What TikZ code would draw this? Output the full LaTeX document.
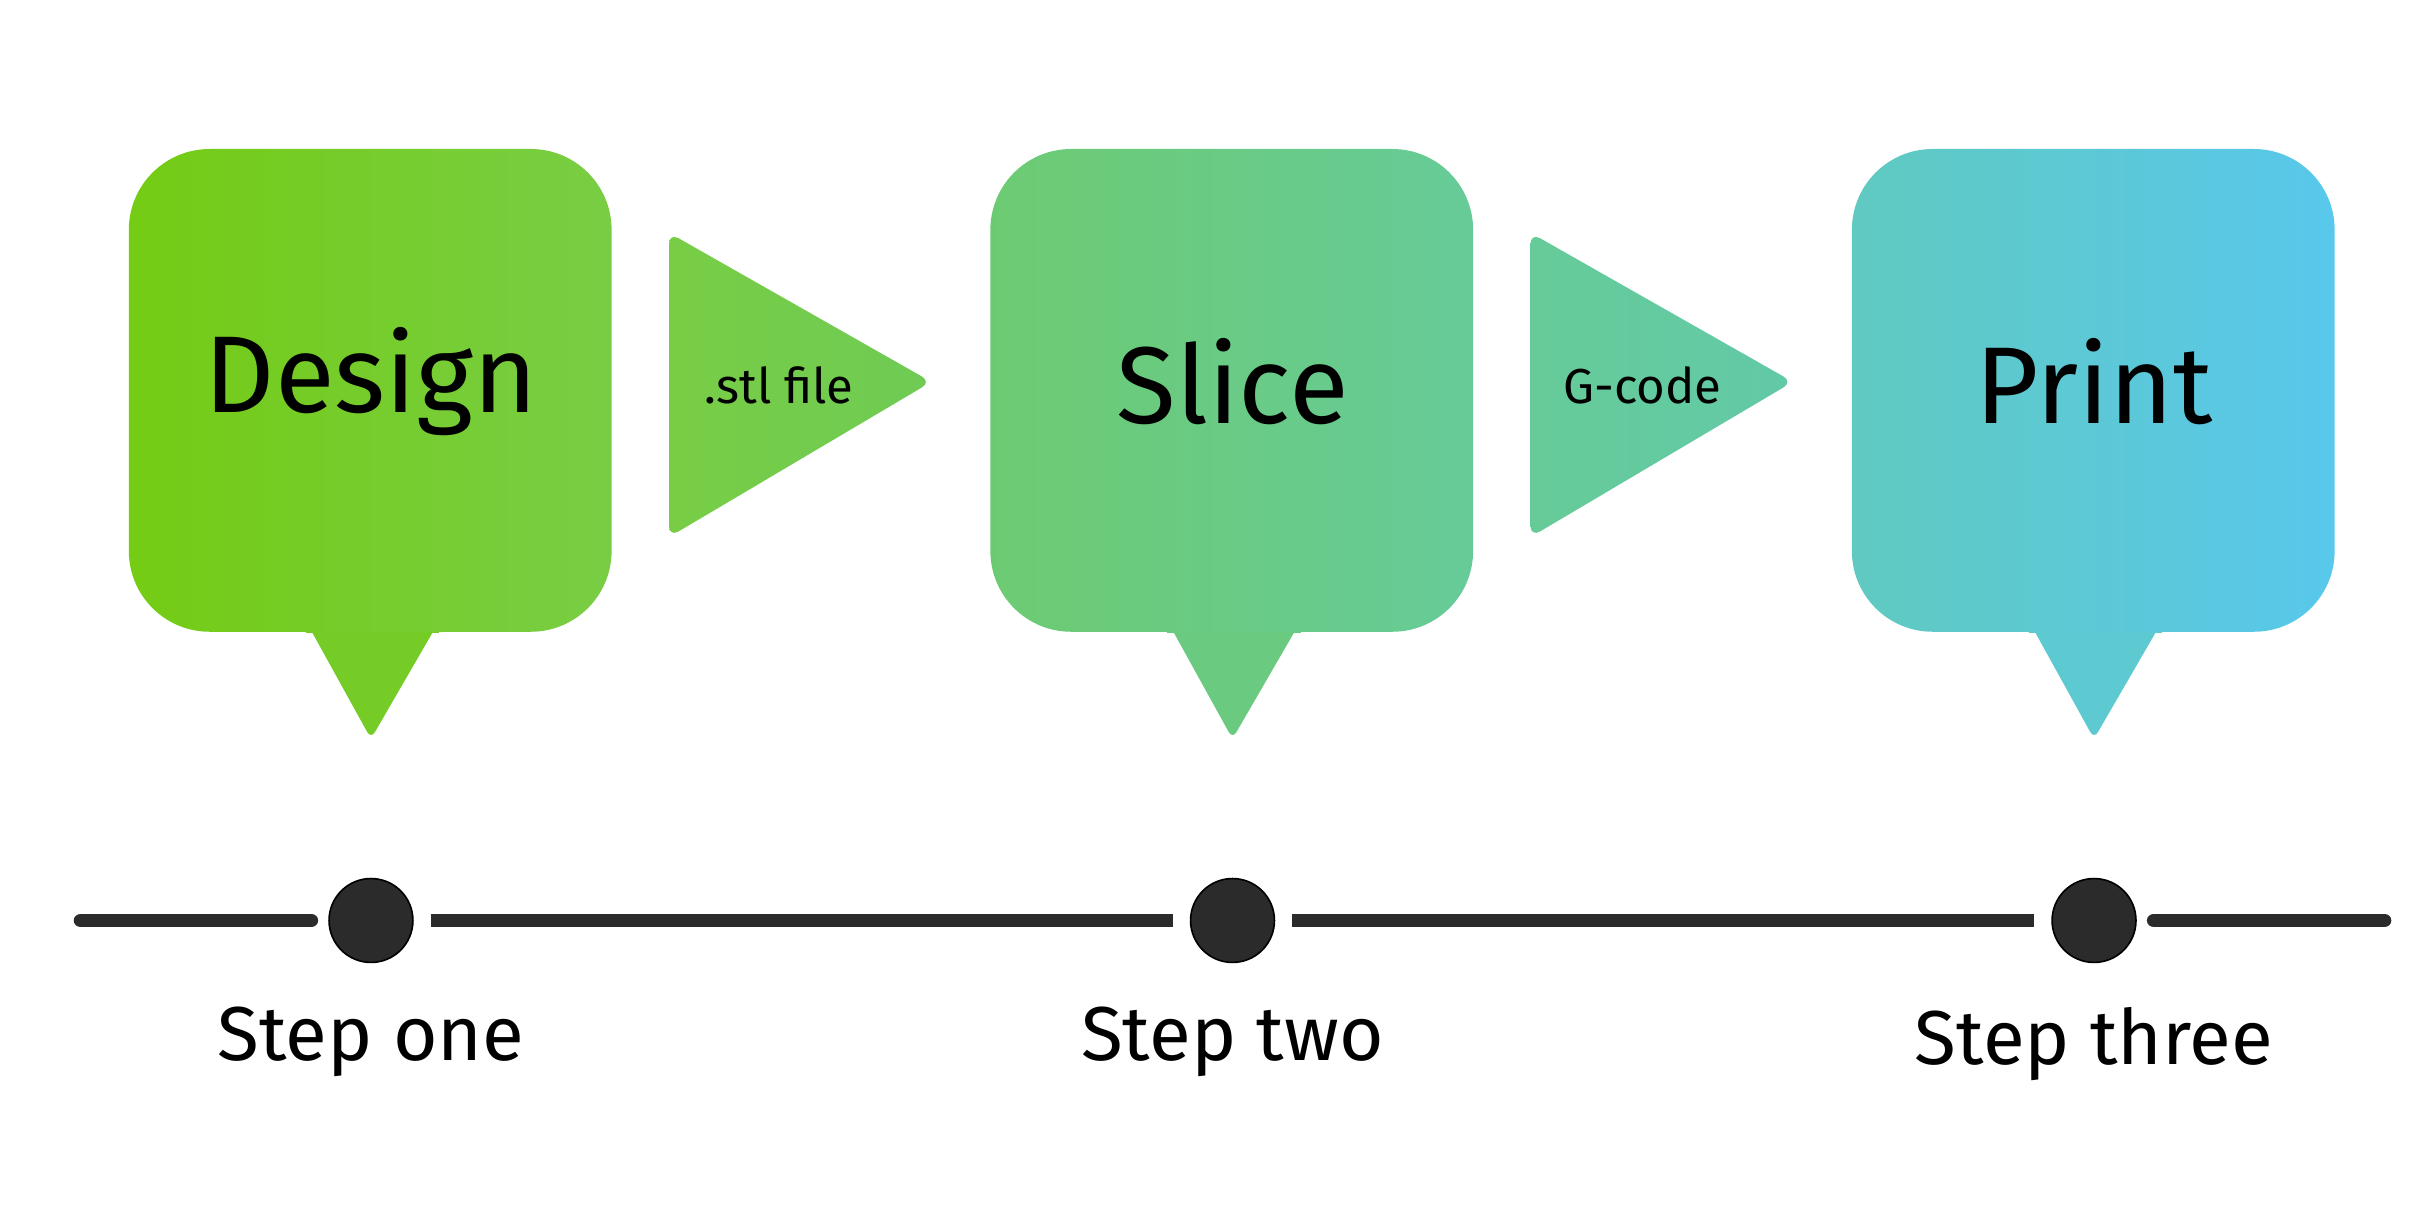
\documentclass[tikz,border=0pt]{standalone}
\usepackage{fontspec}
\setmainfont{Fira Sans}
\usetikzlibrary{positioning}
\definecolor{cA}{HTML}{74CC14}
\definecolor{cB}{HTML}{78CD44}
\definecolor{cC}{HTML}{6FCB55}
\definecolor{cD}{HTML}{6CCB72}
\definecolor{cE}{HTML}{66CB98}
\definecolor{cF}{HTML}{62C9A8}
\definecolor{cG}{HTML}{60C9C0}
\definecolor{cH}{HTML}{58C8EC}
\definecolor{trackgray}{HTML}{2B2B2B}
\tikzset{
  track/.style={line width=0.09cm, draw=trackgray, line cap=round},
  dot/.style={circle, fill=trackgray, draw=black, line width=0.3pt, minimum size=0.54cm, inner sep=0pt},
  steplabel/.style={font=\fontsize{14}{16}\selectfont, text=black},
  title/.style={font=\fontsize{20}{24}\selectfont, text=black},
  tag/.style={font=\fontsize{9}{11}\selectfont, text=black}
}
% bubble: centre x, left colour, right colour
\newcommand{\bubble}[3]{
  \fill[#2!63!#3, rounded corners=0.05cm] (#1-42,400) -- (#1+44,400) -- (#1,476) -- cycle;
  \fill[#2!63!#3] (#1-42,400) rectangle (#1+44,408);
  \shade[left color=#2, right color=#3, rounded corners=0.52cm] (#1-156,96) rectangle (#1+155,407);
}
% arrow: left x, left colour, right colour
\newcommand{\pointer}[3]{
  \shade[left color=#2, right color=#3, rounded corners=0.07cm] (#1,150) -- (#1+169,246) -- (#1,346) -- cycle;
}

\begin{document}
\begin{tikzpicture}[x=0.01cm, y=-0.01cm]
  \useasboundingbox (0,0) rectangle (1568,792);

  % Bubbles and arrows
  \bubble{239}{cA}{cB}
  \pointer{431}{cB}{cC}
  \bubble{794}{cD}{cE}
  \pointer{986}{cE}{cF}
  \bubble{1349}{cG}{cH}

  % Titles
  \node[title] (design) at (239,246) {Design};
  \node[title] (slice) at (794,246) {Slice};
  \node[title] (print) at (1349,246) {Print};
  \node[tag] (stl) at (502,248) {.stl file};
  \node[tag] (gcode) at (1058,248) {G-code};

  % Timeline
  \coordinate (start) at (52,593);
  \coordinate (end) at (1536,593);
  \node[dot] (s1) at (239,593) {};
  \node[dot] (s2) at (794,593) {};
  \node[dot] (s3) at (1349,593) {};
  \draw[track, shorten >=0.11cm] (start) -- (s1);
  \draw[track, shorten <=0.11cm, shorten >=0.11cm, line cap=butt] (s1) -- (s2);
  \draw[track, shorten <=0.11cm, shorten >=0.11cm, line cap=butt] (s2) -- (s3);
  \draw[track, shorten <=0.11cm] (s3) -- (end);

  % Labels
  \node[steplabel, below=0.16cm of s1] (one) {Step one};
  \node[steplabel, below=0.16cm of s2] (two) {Step two};
  \node[steplabel, below=0.16cm of s3] (three) {Step three};
\end{tikzpicture}
\end{document}
